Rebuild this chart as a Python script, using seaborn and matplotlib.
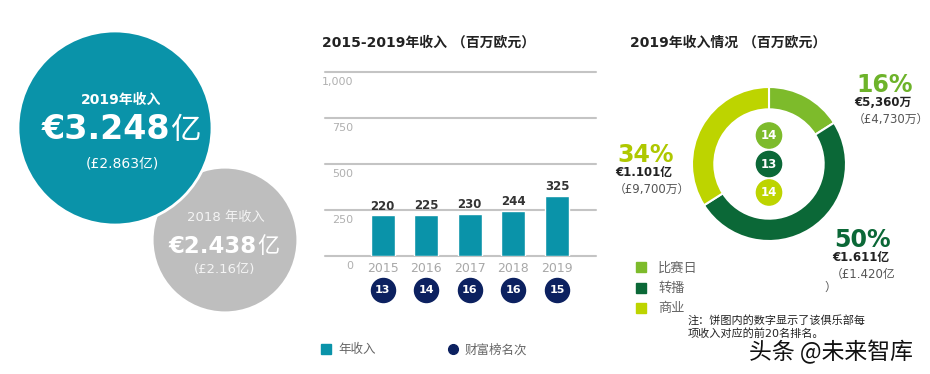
import pandas as pd
import matplotlib.pyplot as plt
from matplotlib.patches import Circle
from matplotlib.lines import Line2D
import seaborn as sns

# ---- dados ----
# bolhas (receita total, em 亿 euros)
bolha_anos = ["2019年收入", "2018 年收入"]
bolha_eur = [3.248, 2.438]
bolha_eur_txt = ["€3.248", "€2.438"]
bolha_gbp_txt = ["(£2.863亿)", "(£2.16亿)"]

# barras 2015-2019
anos = ["2015", "2016", "2017", "2018", "2019"]
receita = [220, 225, 230, 244, 325]
ranking = [13, 14, 16, 16, 15]
y_ticks = [0, 250, 500, 750, 1000]
y_labels = ["0", "250", "500", "750", "1,000"]

# rosca 2019
segmentos = ["比赛日", "转播", "商业"]
partes = [16, 50, 34]
seg_eur = ["€5,360万", "€1.611亿", "€1.101亿"]
seg_gbp = ["（£4,730万）", "（£1.420亿", "（£9,700万）"]
seg_rank = [14, 13, 14]

# ---- estilo ----
TEAL = "#0A93A9"
CINZA = "#BEBEBE"
NAVY = "#0C2160"
VERDES = ["#7DBB2B", "#0B6837", "#BDD400"]
VERDES_TXT = ["#6DB32A", "#0B6837", "#AFC800"]

sns.set_theme(style="white")
plt.rcParams['font.family'] = ['DejaVu Sans', 'Noto Sans CJK SC']

fig = plt.figure(figsize=(9.3, 3.74), dpi=100)

# eixo de fundo em pixels, para as bolhas e textos soltos
bg = fig.add_axes([0, 0, 1, 1])
bg.set_xlim(0, 930)
bg.set_ylim(374, 0)
bg.axis("off")

# bolhas: raio proporcional à receita
k = 97 / bolha_eur[0]
centros = [(115, 128), (225, 240)]
cores_bolha = [TEAL, CINZA]
for i in [1, 0]:
    bg.add_patch(Circle(centros[i], bolha_eur[i] * k, facecolor=cores_bolha[i],
                        edgecolor="white", linewidth=2, zorder=2 + (1 - i)))

# textos da bolha 2019
bg.text(121, 100, bolha_anos[0], ha="center", va="center", color="white",
        fontsize=10, fontweight="bold", zorder=5)
bg.text(170, 139, bolha_eur_txt[0], ha="right", va="baseline", color="white",
        fontsize=24, fontweight="bold", zorder=5)
bg.text(170, 139, "亿", ha="left", va="baseline", color="white",
        fontsize=22, family=['Noto Sans CJK SC'], zorder=5)
bg.text(122, 163, bolha_gbp_txt[0], ha="center", va="center", color="white",
        fontsize=10, zorder=5)

# textos da bolha 2018
bg.text(226, 217, bolha_anos[1], ha="center", va="center", color="#F4F4F4",
        fontsize=9.5, zorder=5)
bg.text(257, 253, bolha_eur_txt[1], ha="right", va="baseline", color="white",
        fontsize=16.5, fontweight="bold", zorder=5)
bg.text(257, 253, "亿", ha="left", va="baseline", color="white",
        fontsize=16, family=['Noto Sans CJK SC'], zorder=5)
bg.text(225, 270, bolha_gbp_txt[1], ha="center", va="center", color="#F4F4F4",
        fontsize=9.5, zorder=5)

# ---- gráfico de barras ----
df = pd.DataFrame({"ano": anos, "receita": receita, "ranking": ranking})
ax = fig.add_axes([325 / 930, (374 - 256) / 374, 271 / 930, 184.3 / 374])
ax.patch.set_visible(False)
sns.barplot(data=df, x="ano", y="receita", color=TEAL, width=0.55,
            saturation=1, ax=ax, zorder=3)
ax.set_ylim(0, 1000)
ax.set_xlim(-1.32, 4.895)
for v in y_ticks:
    ax.axhline(v, color="#C4C4C4", lw=1.5, zorder=1, clip_on=False)
for v, lab in zip(y_ticks, y_labels):
    ax.text(0.103, v - 54, lab, transform=ax.get_yaxis_transform(),
            ha="right", va="center", color="#B0B0B0", fontsize=8)
ax.set_yticks([])
ax.set_xlabel("")
ax.set_ylabel("")
ax.tick_params(axis="x", length=0, pad=4, labelsize=9, labelcolor="#A8A8A8")
sns.despine(ax=ax, left=True, bottom=True)
ax.bar_label(ax.containers[0], padding=2, fontsize=8.5, fontweight="bold",
             color="#333333")

# ranking em círculos abaixo dos anos
ax.scatter(range(len(anos)), [-184] * len(anos), s=300, color=NAVY,
           clip_on=False, zorder=4)
for i, r in enumerate(ranking):
    ax.text(i, -184, str(r), ha="center", va="center", color="white",
            fontsize=8, fontweight="bold", clip_on=False, zorder=5)

handles = [Line2D([], [], marker="s", ls="", color=TEAL, markersize=7),
           Line2D([], [], marker="o", ls="", color=NAVY, markersize=7)]
fig.legend(handles, ["年收入", "财富榜名次"], loc="center left",
           bbox_to_anchor=(310 / 930, (374 - 350) / 374), ncol=2,
           frameon=False, fontsize=9, labelcolor="#666666",
           handlelength=0.8, handletextpad=0.6, columnspacing=5.7)

bg.text(322, 43, "2015-2019年收入 （百万欧元）", ha="left", va="center",
        fontsize=10, fontweight="bold", color="#222222")

# ---- rosca ----
axp = fig.add_axes([(769 - 77) / 930, (374 - 241) / 374, 154 / 930, 154 / 374])
axp.patch.set_visible(False)
cunhas, _ = axp.pie(partes, colors=VERDES, startangle=90, counterclock=False,
                    radius=1, wedgeprops=dict(width=0.29, edgecolor="white",
                                              linewidth=1.5))
axp.set_xlim(-1, 1)
axp.set_ylim(-1, 1)
pos_y = [0.37, 0, -0.37]
axp.scatter([0] * 3, pos_y, s=330, color=VERDES, zorder=4, clip_on=False)
for yy, r in zip(pos_y, seg_rank):
    axp.text(0, yy, str(r), ha="center", va="center", color="white",
             fontsize=8.5, fontweight="bold", zorder=5)

bg.text(630, 43, "2019年收入情况 （百万欧元）", ha="left", va="center",
        fontsize=10, fontweight="bold", color="#222222")

# rótulos dos segmentos: (x, y do percentual)
rot_pos = [(856, 85), (834, 240), (617, 155)]
for i, (x, y) in enumerate(rot_pos):
    bg.text(x, y, f"{partes[i]}%", ha="left", va="center", fontsize=17,
            fontweight="bold", color=VERDES_TXT[i])
    bg.text(x - 2, y + 17, seg_eur[i], ha="left", va="center", fontsize=8.5,
            fontweight="bold", color="#222222")
    bg.text(x - 3, y + 34, seg_gbp[i], ha="left", va="center", fontsize=8.5,
            color="#555555")
bg.text(824, 287, "）", ha="left", va="center", fontsize=8.5, color="#555555")

leg_h = [Line2D([], [], marker="s", ls="", color=c, markersize=7) for c in VERDES]
fig.legend(leg_h, segmentos, loc="upper left",
           bbox_to_anchor=(624 / 930, (374 - 250) / 374), frameon=False,
           fontsize=9.5, labelcolor="#666666", handlelength=0.8,
           handletextpad=0.9, labelspacing=0.55)

bg.text(688, 320, "注：饼图内的数字显示了该俱乐部每", ha="left", va="center",
        fontsize=8, color="#222222")
bg.text(688, 333, "项收入对应的前20名排名。", ha="left", va="center",
        fontsize=8, color="#222222")
bg.text(749, 352, "头条 @未来智库", ha="left", va="center", fontsize=16.5,
        color="#111111", family=['Noto Sans CJK SC', 'DejaVu Sans'])

plt.savefig("out.png", dpi=100)
